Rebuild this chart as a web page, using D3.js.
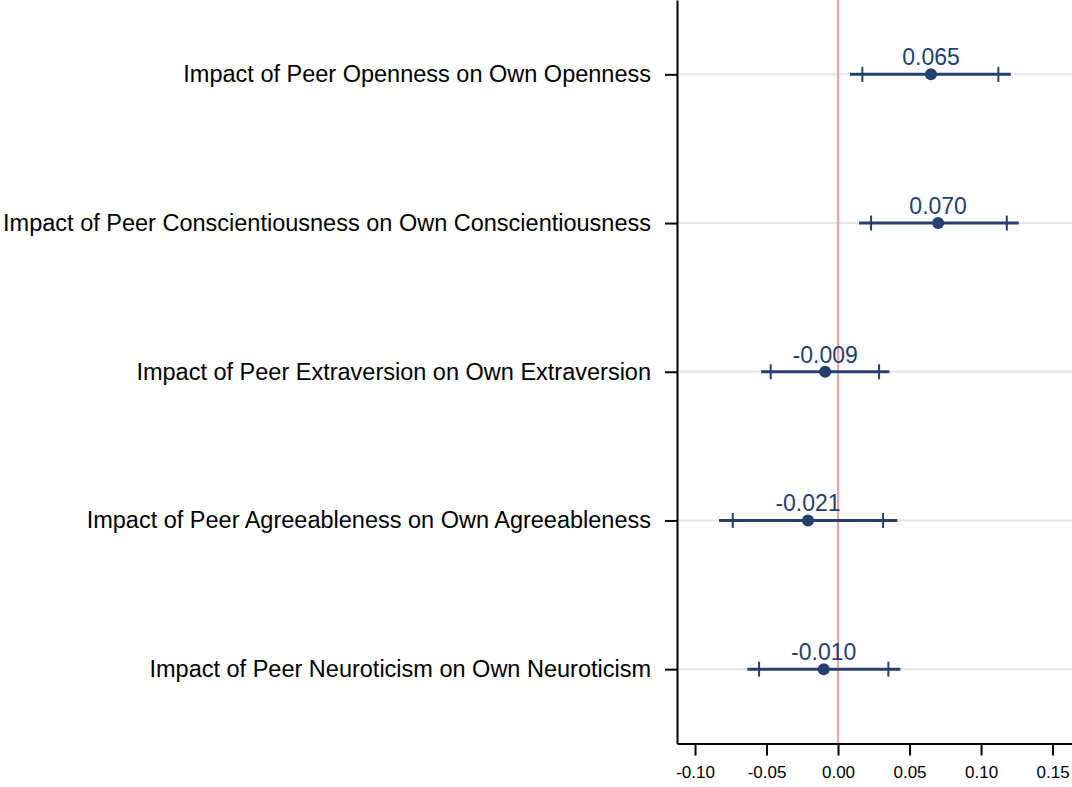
<!DOCTYPE html>
<html>
<head>
<meta charset="utf-8">
<script src="https://cdn.jsdelivr.net/npm/d3@7"></script>
<style>
  body { margin: 0; background: #fff; }
  text { font-family: "Liberation Sans", Arial, sans-serif; }
</style>
</head>
<body>
<div id="coefplot"></div>
<script>

// ------------------- //
// DATA
// ------------------- //

var labels = [
  "Impact of Peer Openness on Own Openness",
  "Impact of Peer Conscientiousness on Own Conscientiousness",
  "Impact of Peer Extraversion on Own Extraversion",
  "Impact of Peer Agreeableness on Own Agreeableness",
  "Impact of Peer Neuroticism on Own Neuroticism"
]
var estimates = [0.065, 0.070, -0.009, -0.021, -0.010]
var ci95Low  = [0.0084, 0.0147, -0.0538, -0.0832, -0.0634]
var ci95High = [0.1208, 0.1264, 0.0359, 0.0415, 0.0436]
var ci90Low  = [0.0170, 0.0231, -0.0471, -0.0736, -0.0552]
var ci90High = [0.1121, 0.1180, 0.0287, 0.0315, 0.0352]
var xTicks = [-0.10, -0.05, 0.00, 0.05, 0.10, 0.15]

var data = labels.map(function(d, i) {
  return {label: d, est: estimates[i], lo95: ci95Low[i], hi95: ci95High[i], lo90: ci90Low[i], hi90: ci90High[i]}
})

// ------------------- //
// SVG
// ------------------- //

var W = 1072, H = 787
var margin = {top: 0, right: 0, bottom: 43.5, left: 677},
  width = W - margin.left - margin.right,
  height = H - margin.top - margin.bottom

var navy = "#253f6f"

var svg = d3.select("#coefplot")
.append("svg")
  .attr("width", W)
  .attr("height", H)
.append("g")
  .attr("transform", "translate(" + margin.left + "," + margin.top + ")")

// ------------------- //
// SCALES
// ------------------- //

var x = d3.scaleLinear()
  .domain([-0.1126, 0.1636])
  .range([0, width])

var y = d3.scalePoint()
  .domain(labels)
  .range([0, height])
  .padding(0.5)

// gridlines
svg.selectAll(".grid")
  .data(labels)
  .enter()
  .append("line")
    .attr("x1", 0)
    .attr("x2", width)
    .attr("y1", function(d) { return y(d) })
    .attr("y2", function(d) { return y(d) })
    .attr("stroke", "#e6e6e6")
    .attr("stroke-width", 2)

// reference line at zero
svg.append("line")
  .attr("x1", x(0)).attr("x2", x(0))
  .attr("y1", 0).attr("y2", height)
  .attr("stroke", "#f29893")
  .attr("stroke-width", 1.8)

// ------------------- //
// AXES
// ------------------- //

var xAxis = svg.append("g")
  .attr("transform", "translate(0," + height + ")")
  .call(d3.axisBottom(x).tickValues(xTicks).tickFormat(d3.format(".2f")).tickSize(12).tickSizeOuter(0).tickPadding(10))
xAxis.select(".domain").attr("stroke", "#000").attr("stroke-width", 2)
xAxis.selectAll(".tick line").attr("stroke", "#000").attr("stroke-width", 2)
xAxis.selectAll(".tick text")
  .style("font-size", "17px")
  .attr("fill", "#000")
  .text(function(d) { return d3.format(".2f")(d).replace("−", "-") })

var yAxis = svg.append("g")
  .call(d3.axisLeft(y).tickSize(12).tickSizeOuter(0).tickPadding(14))
yAxis.select(".domain").attr("stroke", "#000").attr("stroke-width", 2)
yAxis.selectAll(".tick line").attr("stroke", "#000").attr("stroke-width", 2)
yAxis.selectAll(".tick text")
  .style("font-size", "23.5px")
  .attr("fill", "#000")

// ------------------- //
// MARKS
// ------------------- //

var rows = svg.selectAll(".row")
  .data(data)
  .enter()
  .append("g")
    .attr("transform", function(d) { return "translate(0," + y(d.label) + ")" })

// 95% interval
rows.append("line")
  .attr("x1", function(d) { return x(d.lo95) })
  .attr("x2", function(d) { return x(d.hi95) })
  .attr("stroke", navy)
  .attr("stroke-width", 3)

// 90% interval caps
rows.selectAll(".cap")
  .data(function(d) { return [d.lo90, d.hi90] })
  .enter()
  .append("line")
    .attr("x1", function(d) { return x(d) })
    .attr("x2", function(d) { return x(d) })
    .attr("y1", -7.5)
    .attr("y2", 7.5)
    .attr("stroke", navy)
    .attr("stroke-width", 2)

// point estimate
rows.append("circle")
  .attr("cx", function(d) { return x(d.est) })
  .attr("r", 6)
  .attr("fill", navy)

// value label
rows.append("text")
  .attr("x", function(d) { return x(d.est) })
  .attr("y", -9)
  .attr("text-anchor", "middle")
  .style("font-size", "23px")
  .attr("fill", navy)
  .text(function(d) { return d3.format(".3f")(d.est).replace("−", "-") })

</script>
</body>
</html>
